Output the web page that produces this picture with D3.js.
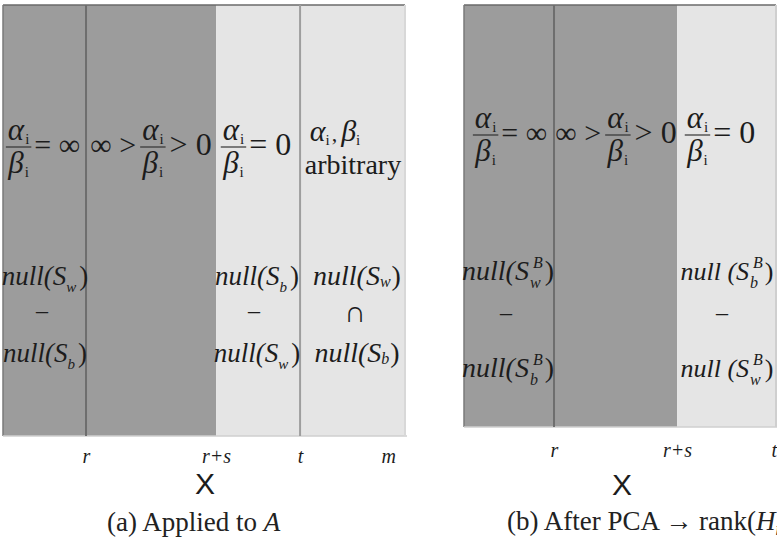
<!DOCTYPE html>
<html><head><meta charset="utf-8">
<script src="https://cdn.jsdelivr.net/npm/d3@7"></script>
<style>body{margin:0;background:#fff;overflow:hidden}</style>
</head><body>
<svg id="c" width="777" height="544"></svg>
<script>
// ---- data ----
const boundsA = [0, 20.65, 53.0, 73.9, 100];
const shadesA = ["dark", "dark", "light", "light"];
const boundsB = [0, 28.85, 68.3, 100];
const shadesB = ["dark", "dark", "light"];
const tickLabelsA = ["r", "r+s", "t", "m"];
const tickPosA = [20.65, 53.0, 73.9, 95.8];
const tickLabelsB = ["r", "r+s", "t"];
const tickPosB = [28.85, 68.3, 99.3];
const axisTitle = "X";

// ---- setup ----
const svg = d3.select("#c");
const SERIF = "'Liberation Serif','Times New Roman',serif";
const SANS = "'Liberation Sans',Arial,sans-serif";
const INK = "#1c1c1c";
const fill = { dark: "#9c9c9c", light: "#e5e5e5" };

const xA = d3.scaleLinear().domain([0, 100]).range([3, 405]);
const xB = d3.scaleLinear().domain([0, 100]).range([464, 776]);

function panel(x, bounds, shades, top, bottom, lineAt) {
  const g = svg.append("g");
  const segs = shades.map((s, i) => ({ s, a: bounds[i], b: bounds[i + 1] }));
  g.selectAll("rect").data(segs).join("rect")
    .attr("x", d => x(d.a)).attr("y", top)
    .attr("width", d => x(d.b) - x(d.a)).attr("height", bottom - top)
    .attr("fill", d => fill[d.s]);
  g.append("line").attr("x1", x(0)).attr("x2", x(100)).attr("y1", top).attr("y2", top)
    .attr("stroke", "#6a6a6a").attr("stroke-width", 1.5);
  g.append("line").attr("x1", x(0)).attr("x2", x(0)).attr("y1", top).attr("y2", bottom)
    .attr("stroke", "#7a7a7a").attr("stroke-width", 1.5);
  g.append("line").attr("x1", x(0)).attr("x2", x(100) + 2).attr("y1", bottom).attr("y2", bottom)
    .attr("stroke", "#cfcfcf").attr("stroke-width", 1.5);
  lineAt.forEach(l => {
    g.append("line").attr("x1", x(bounds[l.i])).attr("x2", x(bounds[l.i]))
      .attr("y1", top).attr("y2", bottom).attr("stroke", l.c).attr("stroke-width", 2);
  });
  return g;
}

panel(xA, boundsA, shadesA, 5, 436, [{ i: 1, c: "#6e6e6e" }, { i: 3, c: "#9e9e9e" }, { i: 4, c: "#d8d8d8" }]);
panel(xB, boundsB, shadesB, 5, 427, [{ i: 1, c: "#6e6e6e" }, { i: 3, c: "#cfcfcf" }]);

// ---- rich text helpers ----
function drawRich(g, pieces, y) {
  let cx = 0, prevStart = 0, prevW = 0;
  pieces.forEach(p => {
    const t = g.append("text").attr("y", y + (p.dy || 0))
      .style("font-family", p.ff || SERIF).style("font-size", (p.fs || 28) + "px")
      .style("font-style", p.it ? "italic" : "normal").attr("fill", INK).text(p.s);
    const w = t.node().getComputedTextLength();
    if (p.stack) {
      t.attr("x", prevStart + (p.dx || 0));
      const nw = Math.max(prevW, w + (p.dx || 0));
      cx = prevStart + nw; prevW = nw;
    } else {
      cx += (p.dx || 0);
      t.attr("x", cx); prevStart = cx; prevW = w; cx += w;
    }
  });
  return cx;
}
function drawFrac(g, num, den, cy) {
  const gn = g.append("g"), gd = g.append("g");
  const wn = drawRich(gn, num, cy - 7);
  const wd = drawRich(gd, den, cy + 26);
  const w = Math.max(wn, wd) + 4;
  gn.attr("transform", `translate(${(w - wn) / 2},0)`);
  gd.attr("transform", `translate(${(w - wd) / 2},0)`);
  g.append("line").attr("x1", 0).attr("x2", w).attr("y1", cy).attr("y2", cy)
    .attr("stroke", "#333").attr("stroke-width", 1.2);
  return w;
}
function expr(items, cx, cy, gap) {
  const root = svg.append("g");
  let x = 0;
  items.forEach(it => {
    const g = root.append("g").attr("transform", `translate(${x},0)`);
    const w = it.frac ? drawFrac(g, it.num, it.den, cy) : drawRich(g, it.pieces, cy + 8);
    x += w + gap;
  });
  x -= gap;
  root.attr("transform", `translate(${cx - x / 2},0)`);
}
function line(pieces, cx, y) {
  const g = svg.append("g");
  const w = drawRich(g, pieces, y);
  g.attr("transform", `translate(${cx - w / 2},0)`);
}

const alpha = [{ s: "α", it: true, fs: 31 }, { s: "i", fs: 15, dy: 4, dx: 1 }];
const beta = [{ s: "β", it: true, fs: 31 }, { s: "i", fs: 15, dy: 4, dx: 1 }];
const F = { frac: true, num: alpha, den: beta };

// ---- panel A labels ----
expr([F, { pieces: [{ s: "= ∞", fs: 30 }] }], 43, 147, 3);
expr([{ pieces: [{ s: "∞ >", fs: 30 }] }, F, { pieces: [{ s: "> 0", fs: 32 }] }], 151, 147, 4);
expr([F, { pieces: [{ s: "= 0", fs: 32 }] }], 256, 147, 3);
line([{ s: "α", it: true, fs: 30 }, { s: "i", fs: 15, dy: 4 }, { s: ",", fs: 22, dx: 2 },
      { s: "β", it: true, fs: 30, dx: 4 }, { s: "i", fs: 15, dy: 4 }], 335, 141);
line([{ s: "arbitrary", fs: 28 }], 353, 174);

const nullA = sub => [{ s: "null(S", it: true, fs: 27 }, { s: sub, it: true, fs: 15, dy: 7 }, { s: ")", fs: 27, dx: 3 }];
line(nullA("w"), 45, 285);
line([{ s: "–", fs: 24 }], 42, 318);
line(nullA("b"), 45, 362);
line(nullA("b"), 257, 285);
line([{ s: "–", fs: 24 }], 254, 318);
line(nullA("w"), 257, 362);
const nullA2 = sub => [{ s: "null(S", it: true, fs: 28 }, { s: sub, it: true, fs: 16, dy: 2 }, { s: ")", fs: 28, dx: 1 }];
line(nullA2("w"), 357, 285);
line([{ s: "∩", fs: 30 }], 355, 322);
line(nullA2("b"), 357, 362);

// ---- panel B labels ----
expr([F, { pieces: [{ s: "= ∞", fs: 30 }] }], 510, 135, 3);
expr([{ pieces: [{ s: "∞ >", fs: 30 }] }, F, { pieces: [{ s: "> 0", fs: 32 }] }], 616, 135, 4);
expr([F, { pieces: [{ s: "= 0", fs: 32 }] }], 720, 135, 3);

const nullB = (sub, sp, fs) => [{ s: "null" + (sp ? " " : "") + "(S", it: true, fs: fs },
  { s: sub, it: true, fs: 16, dy: 8, dx: 1 }, { s: "B", it: true, fs: 16, dy: -12, stack: true, dx: 3 },
  { s: ")", fs: fs, dx: 2 }];
line(nullB("w", false, 28), 508, 280);
line([{ s: "–", fs: 24 }], 506, 320);
line(nullB("b", false, 28), 508, 377);
line(nullB("b", true, 26), 727, 280);
line([{ s: "–", fs: 24 }], 722, 320);
line(nullB("w", true, 26), 727, 377);

// ---- axes (tick labels) ----
function ticks(x, labels, pos, y) {
  const ax = d3.axisBottom(x).tickValues(pos).tickSize(0)
    .tickFormat((d, i) => labels[i]);
  const g = svg.append("g").attr("transform", `translate(0,${y})`).call(ax);
  g.select(".domain").remove();
  g.selectAll("text").attr("dy", 0).attr("y", 0)
    .style("font-family", SERIF).style("font-style", "italic").style("font-size", "20px")
    .attr("fill", INK);
}
ticks(xA, tickLabelsA, tickPosA, 463);
ticks(xB, tickLabelsB, tickPosB, 457);

svg.append("text").attr("x", 205).attr("y", 494).attr("text-anchor", "middle")
  .style("font-family", SANS).style("font-size", "30px").attr("fill", INK).text(axisTitle);
svg.append("text").attr("x", 622).attr("y", 495).attr("text-anchor", "middle")
  .style("font-family", SANS).style("font-size", "30px").attr("fill", INK).text(axisTitle);

// ---- captions ----
const capA = svg.append("text").attr("x", 107).attr("y", 531)
  .style("font-family", SERIF).style("font-size", "27px").attr("fill", "#222");
capA.append("tspan").text("(a) Applied to ");
capA.append("tspan").style("font-style", "italic").text("A");

const capB = svg.append("text").attr("x", 507).attr("y", 530)
  .style("font-family", SERIF).style("font-size", "27px").attr("fill", "#222");
capB.append("tspan").text("(b) After PCA → rank(");
capB.append("tspan").style("font-style", "italic").text("H");
capB.append("tspan").style("font-style", "italic").style("font-size", "18px").attr("dy", 5).text("m");
</script>
</body></html>
